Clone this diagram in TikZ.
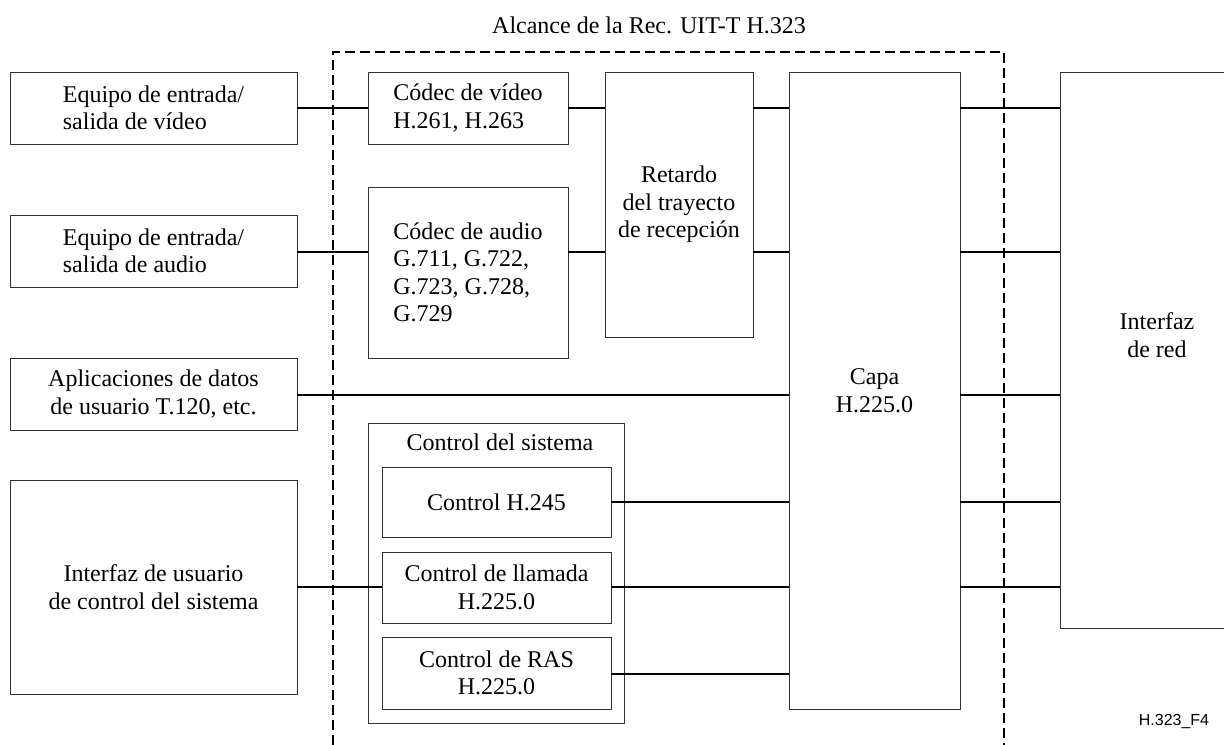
\documentclass[tikz,border=0pt]{standalone}
\usepackage{fontspec}
\setmainfont{Liberation Serif}
\newfontfamily\refsans{Liberation Sans}
\usetikzlibrary{positioning,calc}

\begin{document}
\begin{tikzpicture}[x=0.75pt, y=-0.75pt,
		blk/.style={draw=black!80, line width=0.6pt, inner sep=0pt, font=\fontsize{18}{20.6}\selectfont},
		sz/.style 2 args={minimum width=#1*0.75pt, minimum height=#2*0.75pt},
		conn/.style={line width=1.4pt},
		txt/.style={font=\fontsize{18}{20.6}\selectfont, align=center}]
		\useasboundingbox (0,0) rectangle (1224,744);
		% rows of the connectors
		\coordinate (rv) at (0,108);
		\coordinate (ra) at (0,252);
		\coordinate (rd) at (0,395);
		\coordinate (rh) at (0,502);
		\coordinate (rl) at (0,587);
		\coordinate (rr) at (0,674);
		\draw[line width=1pt, dash pattern=on 7.5pt off 3.75pt] (333,760) -- (333,52) -- (1004,52) -- (1004,760);
		\node[txt] (tit) at (649,25) {Alcance de la Rec. UIT-T H.323};

		\node[blk, sz={287}{72}, align=left] (vio) at (153.5,108) {Equipo de entrada/\\salida de vídeo};
		\node[blk, sz={287}{72}, align=left] (aio) at (153.5,251) {Equipo de entrada/\\salida de audio};
		\node[blk, sz={287}{72}, align=center] (dat) at (153.5,394) {Aplicaciones de datos\\de usuario T.120, etc.};
		\node[blk, sz={287}{214}, align=center] (ui) at (153.5,587) {Interfaz de usuario\\de control del sistema};

		\node[blk, sz={200}{72}, align=left] (vcod) at (468,108) {Códec de vídeo\\H.261, H.263};
		\node[blk, sz={200}{171}, align=left] (acod) at (468,272.5) {Códec de audio\\G.711, G.722,\\G.723, G.728,\\G.729};
		\node[blk, sz={148}{265}, align=center] (ret) at (679,204.5) {Retardo\\del trayecto\\de recepción};
		\node[blk, sz={171}{637}, align=center] (capa) at (874.5,390.5) {Capa\\H.225.0};
		\node[blk, sz={190}{556}] (red) at (1155,350) {};
		\node[txt] (redt) at (1157,335) {Interfaz\\de red};

		\node[blk, sz={256}{300}] (sis) at (496,573) {};
		\node[txt] (sist) at (500,442) {Control del sistema};
		\node[blk, sz={229}{70}, align=center] (h245) at (496.5,502) {Control H.245};
		\node[blk, sz={229}{71}, align=center] (llam) at (496.5,587.5) {Control de llamada\\H.225.0};
		\node[blk, sz={229}{72}, align=center] (ras) at (496.5,673) {Control de RAS\\H.225.0};

		\node[font=\refsans\fontsize{12}{14}\selectfont] (fig) at (1174,721) {H.323\_F4};

		\draw[conn] (vio.east |- rv) -- (vcod.west |- rv);
		\draw[conn] (vcod.east |- rv) -- (ret.west |- rv);
		\draw[conn] (ret.east |- rv) -- (capa.west |- rv);
		\draw[conn] (aio.east |- ra) -- (acod.west |- ra);
		\draw[conn] (acod.east |- ra) -- (ret.west |- ra);
		\draw[conn] (ret.east |- ra) -- (capa.west |- ra);
		\draw[conn] (dat.east |- rd) -- (capa.west |- rd);
		\draw[conn] (h245.east |- rh) -- (capa.west |- rh);
		\draw[conn] (ui.east |- rl) -- (llam.west |- rl);
		\draw[conn] (llam.east |- rl) -- (capa.west |- rl);
		\draw[conn] (ras.east |- rr) -- (capa.west |- rr);
		\foreach \r in {rv,ra,rd,rh,rl}
			\draw[conn] (capa.east |- \r) -- (red.west |- \r);
	\end{tikzpicture}
\end{document}
